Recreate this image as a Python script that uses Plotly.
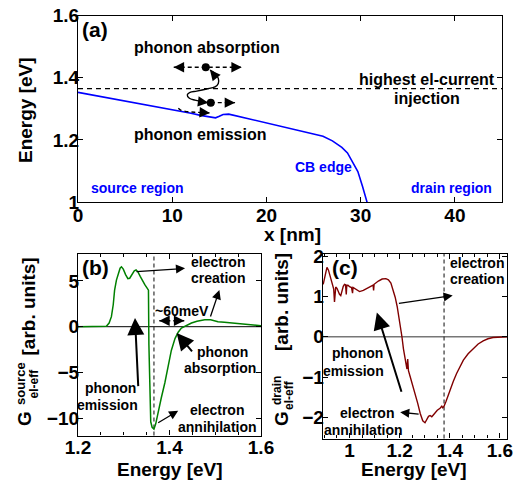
import plotly.graph_objects as go

# ---------------- data ----------------
# (a) conduction-band edge
cb_x = [0, 2, 4, 6, 8, 10, 12, 13, 14, 14.6, 15.0, 15.4, 16, 17, 18, 20, 22, 24, 25, 26, 27, 28, 28.6, 29.2, 29.7, 30.2, 30.65, 31.0]
cb_e = [1.353, 1.342, 1.331, 1.320, 1.309, 1.298, 1.286, 1.279, 1.273, 1.271, 1.276, 1.282, 1.283, 1.276, 1.269,
        1.254, 1.241, 1.228, 1.221, 1.212, 1.197, 1.176, 1.158, 1.127, 1.098, 1.05, 1.0, 0.965]
inj_level = 1.365
dot_x = [13.56, 14.09]
dot_e = [1.434, 1.320]
wave_x = [14.01, 14.54, 14.89, 14.89, 14.54, 13.66, 12.6, 11.89, 11.6, 11.82, 12.42, 13.13, 13.83]
wave_e = [1.425, 1.4145, 1.398, 1.382, 1.371, 1.364, 1.357, 1.353, 1.345, 1.334, 1.328, 1.323, 1.320]
absorb_x = [10.16, 17.38]
absorb_e = [1.434, 1.434]
emit_right_x = [14.09, 16.67]
emit_right_e = [1.320, 1.320]
emit_low_x = [10.65, 10.9, 11.4, 12.4, 14.0]
emit_low_e = [1.302, 1.296, 1.292, 1.289, 1.287]

# (b) source G_el-eff
gs_e = [1.20, 1.25, 1.262, 1.268, 1.273, 1.277, 1.280, 1.284, 1.2875, 1.292, 1.295, 1.299, 1.304, 1.309, 1.313,
        1.318, 1.323, 1.327, 1.331, 1.336, 1.341, 1.346, 1.350, 1.353, 1.354, 1.355, 1.357, 1.359, 1.362, 1.366,
        1.370, 1.375, 1.382, 1.390, 1.397, 1.404, 1.412, 1.419, 1.426, 1.433, 1.440, 1.448, 1.460, 1.477, 1.490,
        1.500, 1.506, 1.520, 1.535, 1.550, 1.565, 1.580, 1.600]
gs_v = [0, 0, 0.05, 0.4, 1.1, 2.4, 4.0, 5.1, 5.8, 6.4, 6.55, 6.3, 5.7, 5.25, 5.3,
        5.7, 6.1, 6.2, 6.0, 5.5, 5.0, 4.6, 4.3, 4.1, 4.0, -2.0, -8.0, -10.4, -11.0, -11.2,
        -10.6, -9.35, -7.8, -6.1, -4.4, -2.6, -1.3, -0.6, -0.15, 0.05, 0.25, 0.4, 0.6, 0.75, 0.76,
        0.65, 0.55, 0.48, 0.4, 0.33, 0.25, 0.17, 0.1]
b_dash_e = 1.366
meV_x = [1.3777, 1.4323]
meV_y = [0.65, 0.65]

# (c) drain G_el-eff
gd_e = [0.895, 0.900, 0.905, 0.910, 0.916, 0.922, 0.928, 0.933, 0.937, 0.940, 0.942, 0.945, 0.950, 0.955, 0.960,
        0.965, 0.970, 0.975, 0.980, 0.984, 0.987, 0.989, 0.995, 1.000, 1.008, 1.012, 1.014, 1.025, 1.040, 1.055,
        1.070, 1.085, 1.094, 1.096, 1.098, 1.115, 1.130, 1.145, 1.155, 1.165, 1.175, 1.182, 1.190, 1.195, 1.202,
        1.209, 1.215, 1.222, 1.226, 1.229, 1.232, 1.235, 1.242, 1.252, 1.262, 1.272, 1.282, 1.292, 1.301, 1.308,
        1.315, 1.321, 1.328, 1.335, 1.341, 1.350, 1.361, 1.368, 1.372, 1.377, 1.385, 1.393, 1.401, 1.414, 1.427,
        1.440, 1.454, 1.473, 1.493, 1.513, 1.533, 1.552, 1.572, 1.600, 1.628]
gd_v = [1.30, 1.45, 1.65, 1.72, 1.65, 1.50, 1.38, 1.30, 1.18, 0.86, 1.15, 1.23, 1.20, 1.12, 1.05,
        1.02, 1.15, 1.25, 1.30, 1.29, 1.05, 1.28, 1.27, 1.24, 1.22, 1.08, 1.22, 1.17, 1.12, 1.15,
        1.20, 1.25, 1.28, 1.15, 1.30, 1.38, 1.43, 1.44, 1.41, 1.33, 1.15, 0.98, 0.75, 0.57, 0.30,
        0.0, -0.3, -0.58, -0.66, -0.80, -0.55, -0.84, -0.99, -1.2, -1.40, -1.65, -1.90, -2.08, -2.13, -2.05,
        -1.97, -1.95, -1.98, -1.93, -1.88, -1.82, -1.77, -1.72, -1.76, -1.72, -1.60, -1.45, -1.32, -1.10, -0.91,
        -0.73, -0.58, -0.42, -0.29, -0.18, -0.10, -0.05, -0.02, -0.005, 0.0]
c_dash_e = 1.377

# ---------------- figure ----------------
OFF = 8            # page body margin
W, H = 528 - OFF, 481 - OFF
FONT = "Liberation Sans"


def DX(px):
    return (px - OFF) / W


def DY(py):
    return 1 - (py - OFF) / H


def P(px, py):
    return DX(px), DY(py)


fig = go.Figure()

# (a)
fig.add_trace(go.Scatter(x=cb_x, y=cb_e, mode="lines", line=dict(color="#0000ff", width=1.6),
                         xaxis="x", yaxis="y", showlegend=False))
fig.add_trace(go.Scatter(x=absorb_x, y=absorb_e, mode="lines", line=dict(color="black", width=1.3, dash="4px,3px"),
                         xaxis="x", yaxis="y", showlegend=False))
fig.add_trace(go.Scatter(x=emit_right_x, y=emit_right_e, mode="lines",
                         line=dict(color="black", width=1.3, dash="4px,3px"),
                         xaxis="x", yaxis="y", showlegend=False))
fig.add_trace(go.Scatter(x=emit_low_x, y=emit_low_e, mode="lines",
                         line=dict(color="black", width=1.3, dash="4px,3px", shape="spline"),
                         xaxis="x", yaxis="y", showlegend=False))
fig.add_trace(go.Scatter(x=wave_x, y=wave_e, mode="lines", line=dict(color="black", width=1.4, shape="spline"),
                         xaxis="x", yaxis="y", showlegend=False))
fig.add_trace(go.Scatter(x=dot_x, y=dot_e, mode="markers", marker=dict(color="black", size=8),
                         xaxis="x", yaxis="y", showlegend=False))

# (b)
fig.add_trace(go.Scatter(x=gs_e, y=gs_v, mode="lines", line=dict(color="#008000", width=1.5),
                         xaxis="x2", yaxis="y2", showlegend=False))
fig.add_trace(go.Scatter(x=meV_x, y=meV_y, mode="lines", line=dict(color="black", width=1.3, dash="4px,3px"),
                         xaxis="x2", yaxis="y2", showlegend=False))

# (c)
fig.add_trace(go.Scatter(x=gd_e, y=gd_v, mode="lines", line=dict(color="#800000", width=1.4),
                         xaxis="x3", yaxis="y3", showlegend=False))

shapes = [
    dict(type="line", xref="x domain", yref="y", x0=0, x1=1, y0=inj_level, y1=inj_level,
         line=dict(color="black", width=1.3, dash="5px,4px"), layer="below"),
    dict(type="line", xref="x2 domain", yref="y2", x0=0, x1=1, y0=0, y1=0,
         line=dict(color="black", width=1), layer="below"),
    dict(type="line", xref="x2", yref="y2 domain", x0=b_dash_e, x1=b_dash_e, y0=0, y1=1,
         line=dict(color="#333333", width=1.2, dash="4px,3px"), layer="below"),
    dict(type="line", xref="x3 domain", yref="y3", x0=0, x1=1, y0=0, y1=0,
         line=dict(color="#777777", width=1.6), layer="below"),
    dict(type="line", xref="x3", yref="y3 domain", x0=c_dash_e, x1=c_dash_e, y0=0, y1=1,
         line=dict(color="#333333", width=1.2, dash="4px,3px"), layer="below"),
]

ann = []


def text(px, py, s, size=14, color="black", angle=0):
    x, y = P(px, py)
    ann.append(dict(x=x, y=y, xref="paper", yref="paper", text=s, showarrow=False, textangle=angle,
                    xanchor="center", yanchor="middle",
                    font=dict(family=FONT, size=size, color=color, weight="bold")))


def arrow(xr, yr, x, y, ax, ay, width=1.3, size=1.4, head=2):
    ann.append(dict(x=x, y=y, ax=ax, ay=ay, xref=xr, yref=yr, axref=xr, ayref=yr, text="",
                    showarrow=True, arrowhead=head, arrowsize=size, arrowwidth=width,
                    arrowcolor="black", standoff=0, startstandoff=0))


def head(xr, yr, x, y, dx, dy, width=1.3, size=1.6):
    ann.append(dict(x=x, y=y, ax=dx, ay=dy, xref=xr, yref=yr, axref="pixel", ayref="pixel", text="",
                    showarrow=True, arrowhead=2, arrowsize=size, arrowwidth=width,
                    arrowcolor="black", standoff=0))


# panel (a) labels
text(95, 30, "(a)", 21)
text(207, 48, "phonon absorption", 16)
text(200, 135, "phonon emission", 16)
text(427, 79, "highest el-current", 16)
text(427, 99, "injection", 16)
text(323, 167, "CB edge", 14, "#0000ff")
text(137, 188, "source region", 14, "#0000ff")
text(451, 188, "drain region", 14, "#0000ff")
text(292, 234, "x [nm]", 19)
text(25, 110, "Energy [eV]", 19, angle=-90)
# panel (a) arrowheads
head("x", "y", absorb_x[0], absorb_e[0], 8, 0)
head("x", "y", absorb_x[1], absorb_e[1], -8, 0)
head("x", "y", emit_right_x[1], emit_right_e[1], -8, 0)
head("x", "y", emit_low_x[-1], emit_low_e[-1], -8, -0.5)
head("x", "y", wave_x[0], wave_e[0], 5, 6)
head("x", "y", wave_x[-1], wave_e[-1], -8, -1)

# panel (b) labels
text(95, 267, "(b)", 21)
text(218, 262, "electron", 14)
text(218, 278, "creation", 14)
text(182, 311, "~60meV", 14)
text(222, 352, "phonon", 14)
text(220, 368, "absorption", 14)
text(110, 388, "phonon", 14)
text(107, 405, "emission", 14)
text(217, 410, "electron", 14)
text(217, 427, "annihilation", 14)
text(170, 469, "Energy [eV]", 19)
text(27.5, 307, "[arb. units]", 19, angle=-90)
text(24, 419, "G", 19, angle=-90)
text(20, 384, "source", 13, angle=-90)
text(33.5, 384, "el-eff", 12, angle=-90)
arrow("x2", "y2", 1.434, 6.38, 1.3246, 6.0)
arrow("x2", "y2", 1.509, 4.0, 1.4885, 0.95)
arrow("x2", "y2", 1.4157, -0.68, 1.452, -2.86, width=2, size=1.7)
arrow("x2", "y2", 1.3246, 0.95, 1.3318, -6.66, width=2, size=1.7)
arrow("x2", "y2", 1.419, -9.2, 1.372, -10.6)
head("x2", "y2", meV_x[0], meV_y[0], 8, 0)
head("x2", "y2", meV_x[1], meV_y[1], -8, 0)

# panel (c) labels
text(345, 267, "(c)", 21)
text(477, 263, "electron", 14)
text(477, 279, "creation", 14)
text(357, 353, "phonon", 14)
text(353, 371, "emission", 14)
text(367, 413, "electron", 14)
text(363, 430, "annihilation", 14)
text(414, 469, "Energy [eV]", 19)
text(281, 302, "[arb. units]", 19, angle=-90)
text(281, 419, "G", 19, angle=-90)
text(277, 391, "drain", 12, angle=-90)
text(289, 395, "el-eff", 12, angle=-90)
arrow("x3", "y3", 1.4115, 1.02, 1.191, 0.82)
arrow("x3", "y3", 1.109, 0.60, 1.209, -1.40, width=2, size=1.7)
arrow("x3", "y3", 1.202, -1.87, 1.2816, -1.92)

tickfont = dict(family=FONT, size=19, color="black", weight="bold")
axis_common = dict(showline=True, linecolor="black", linewidth=1.2, mirror="ticks", ticks="inside",
                   ticklen=5, tickwidth=1, tickcolor="black", showgrid=False, zeroline=False,
                   tickfont=tickfont, automargin=False, ticklabeloverflow="allow")
xstand = dict(ticklabelstandoff=-4)
xstand2 = dict(ticklabelstandoff=-5)
ystand = dict(ticklabelstandoff=-6)

fig.update_layout(
    width=W, height=H, autosize=False,
    margin=dict(l=0, r=0, t=0, b=0, pad=0),
    paper_bgcolor="white", plot_bgcolor="white",
    showlegend=False,
    xaxis=dict(domain=[DX(78), DX(502)], anchor="y", range=[0, 45], tickvals=[0, 10, 20, 30, 40],
               **axis_common, **xstand),
    yaxis=dict(domain=[DY(202), DY(15.7)], anchor="x", range=[1, 1.6],
               tickvals=[1, 1.2, 1.4, 1.6], ticktext=["1", "1.2", "1.4", "1.6"], **axis_common, **ystand),
    xaxis2=dict(domain=[DX(78), DX(261)], anchor="y2", range=[1.2, 1.6], tickvals=[1.2, 1.4, 1.6],
                ticktext=["1.2", "1.4", "1.6"],
                minor=dict(ticks="inside", ticklen=3, tickcolor="black", dtick=0.05, tick0=1.2),
                **axis_common, **xstand2),
    yaxis2=dict(domain=[DY(435.5), DY(254)], anchor="x2", range=[-11.9, 7.95],
                tickvals=[-10, -5, 0, 5], **axis_common, **ystand),
    xaxis3=dict(domain=[DX(322.7), DX(507)], anchor="y3", range=[0.893, 1.628], tickvals=[1, 1.2, 1.4, 1.6],
                ticktext=["1", "1.2", "1.4", "1.6"],
                minor=dict(ticks="inside", ticklen=3, tickcolor="black", dtick=0.05, tick0=1.0),
                **axis_common, **xstand2),
    yaxis3=dict(domain=[DY(438.5), DY(254)], anchor="x3", range=[-2.52, 2.05],
                tickvals=[-2, -1, 0, 1, 2], **axis_common, **ystand),
    shapes=shapes,
    annotations=ann,
)

fig.write_html("out.html")
